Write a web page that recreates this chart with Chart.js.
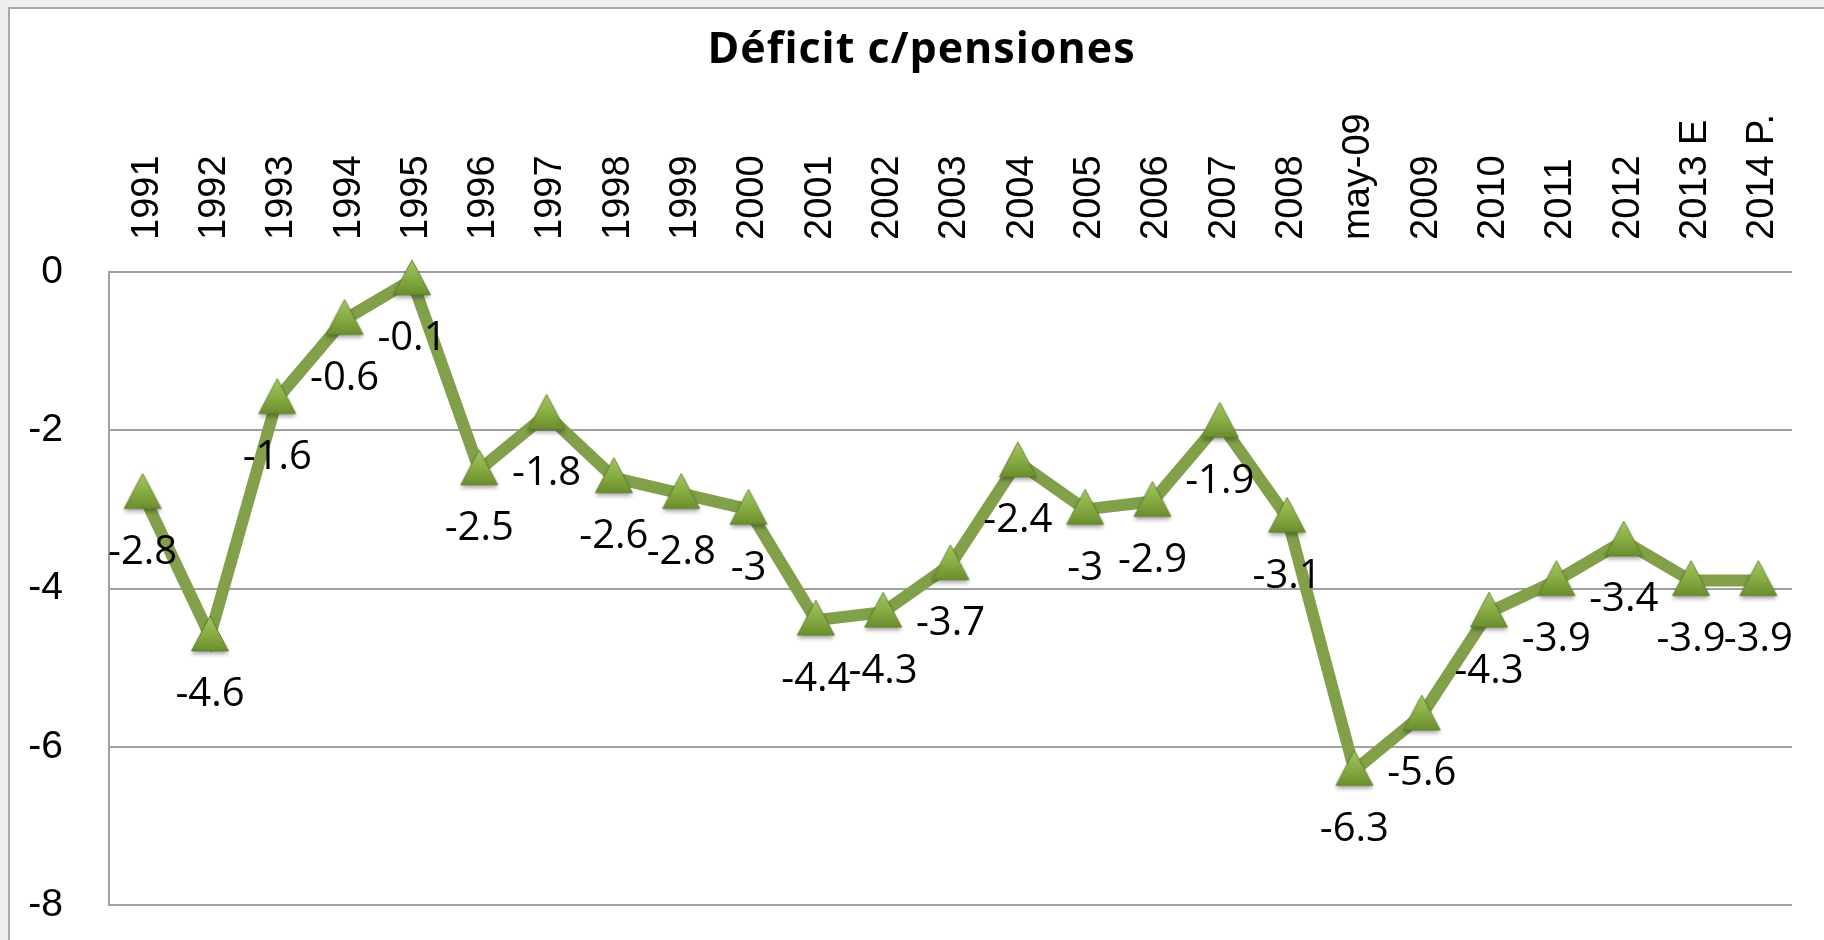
<!DOCTYPE html>
<html><head><meta charset="utf-8">
<script src="https://cdn.jsdelivr.net/npm/chart.js@4/dist/chart.umd.min.js"></script>
<style>
html,body{margin:0;padding:0;background:#efefef;width:1824px;height:940px;overflow:hidden;}
#box{position:absolute;left:8px;top:7px;width:1900px;height:1000px;background:#fff;border:2px solid #a9a9a9;box-sizing:border-box;}
#wrap{position:absolute;left:0;top:0;width:1824px;height:940px;}
</style></head><body>
<div id="box"></div>
<div id="wrap"><canvas id="c" width="1824" height="940"></canvas></div>
<script>
const titleText = 'Déficit c/pensiones';
const categories = ['1991','1992','1993','1994','1995','1996','1997','1998','1999','2000',
  '2001','2002','2003','2004','2005','2006','2007','2008','may-09','2009','2010','2011','2012','2013 E','2014 P.'];
const deficit = [-2.8,-4.6,-1.6,-0.6,-0.1,-2.5,-1.8,-2.6,-2.8,-3,
  -4.4,-4.3,-3.7,-2.4,-3,-2.9,-1.9,-3.1,-6.3,-5.6,-4.3,-3.9,-3.4,-3.9,-3.9];
const yMin = -8, yMax = 0, yStep = 2;

function makeMarker(){
  const c = document.createElement('canvas'); c.width = 48; c.height = 50;
  const g = c.getContext('2d');
  const cx = 24, cy = 24;
  g.save();
  g.shadowColor = 'rgba(0,0,0,0.35)'; g.shadowBlur = 4; g.shadowOffsetY = 3;
  g.beginPath(); g.moveTo(cx, cy-19); g.lineTo(cx+18.5, cy+16); g.lineTo(cx-18.5, cy+16); g.closePath();
  const grad = g.createLinearGradient(0, cy-19, 0, cy+16);
  grad.addColorStop(0, '#a2c862'); grad.addColorStop(0.55, '#86ab42'); grad.addColorStop(1, '#6a8e2d');
  g.fillStyle = grad; g.fill();
  g.restore();
  g.beginPath(); g.moveTo(cx, cy-19); g.lineTo(cx+18.5, cy+16); g.lineTo(cx-18.5, cy+16); g.closePath();
  g.strokeStyle = 'rgba(90,120,40,0.8)'; g.lineWidth = 1; g.stroke();
  return c;
}

const dataLabels = {
  id: 'dataLabels',
  afterDatasetsDraw(chart){
    const ctx = chart.ctx, meta = chart.getDatasetMeta(0);
    ctx.save();
    ctx.font = '40px "Open Sans"';
    ctx.fillStyle = '#000';
    ctx.textAlign = 'center';
    ctx.textBaseline = 'middle';
    meta.data.forEach((pt, i) => ctx.fillText(String(deficit[i]), pt.x, pt.y + 59));
    ctx.restore();
  }
};

const chartTitle = {
  id: 'chartTitle',
  afterDraw(chart){
    const ctx = chart.ctx;
    ctx.save();
    ctx.font = 'bold 43px "Open Sans"';
    ctx.fillStyle = '#000';
    ctx.textAlign = 'center';
    ctx.textBaseline = 'alphabetic';
    const w = ctx.measureText(titleText).width;
    const ls = Math.max(0, Math.min(3, (427 - w) / (titleText.length - 1)));
    ctx.letterSpacing = ls + 'px';
    ctx.fillText(titleText, 921 + ls / 2, 63);
    ctx.restore();
  }
};

// keep the category axis spanning the whole plot area
const fullWidthX = {
  id: 'fullWidthX',
  afterLayout(chart){
    const s = chart.scales.x, a = chart.chartArea;
    s.left = a.left; s.right = a.right; s.width = a.right - a.left;
    s.configure();
  }
};

new Chart(document.getElementById('c'), {
  type: 'line',
  data: {
    labels: categories,
    datasets: [{
      data: deficit,
      borderColor: '#81a049',
      borderWidth: 12,
      pointStyle: makeMarker(),
      pointRadius: 20,
      pointHoverRadius: 20,
      tension: 0,
      clip: false,
      fill: false
    }]
  },
  options: {
    responsive: false,
    animation: false,
    devicePixelRatio: 1,
    layout: { padding: { left: 0, right: 21, top: 73, bottom: 35 } },
    plugins: {
      legend: { display: false },
      tooltip: { enabled: false },
      title: { display: false }
    },
    scales: {
      x: {
        type: 'category', position: 'top', offset: true,
        grid: { display: true, drawOnChartArea: false, drawTicks: true, tickLength: 32, tickColor: 'rgba(0,0,0,0)' },
        border: { display: false },
        ticks: {
          autoSkip: false, minRotation: 90, maxRotation: 90, padding: 0, labelOffset: 50,
          color: '#000', font: { family: 'Liberation Sans', size: 38 }
        },
        afterFit(s){ s.height = 199; s.paddingLeft = 0; s.paddingRight = 0; }
      },
      y: {
        min: yMin, max: yMax,
        grid: { color: '#a0a0a0', lineWidth: 2, drawTicks: true, tickLength: 46, tickColor: 'rgba(0,0,0,0)' },
        border: { display: true, color: '#a0a0a0', width: 2 },
        ticks: {
          stepSize: yStep, padding: 0, color: '#000',
          font: { family: 'Liberation Sans', size: 39 }
        },
        afterFit(s){ s.width = 109; }
      }
    }
  },
  plugins: [fullWidthX, dataLabels, chartTitle]
});
</script>
</body></html>
